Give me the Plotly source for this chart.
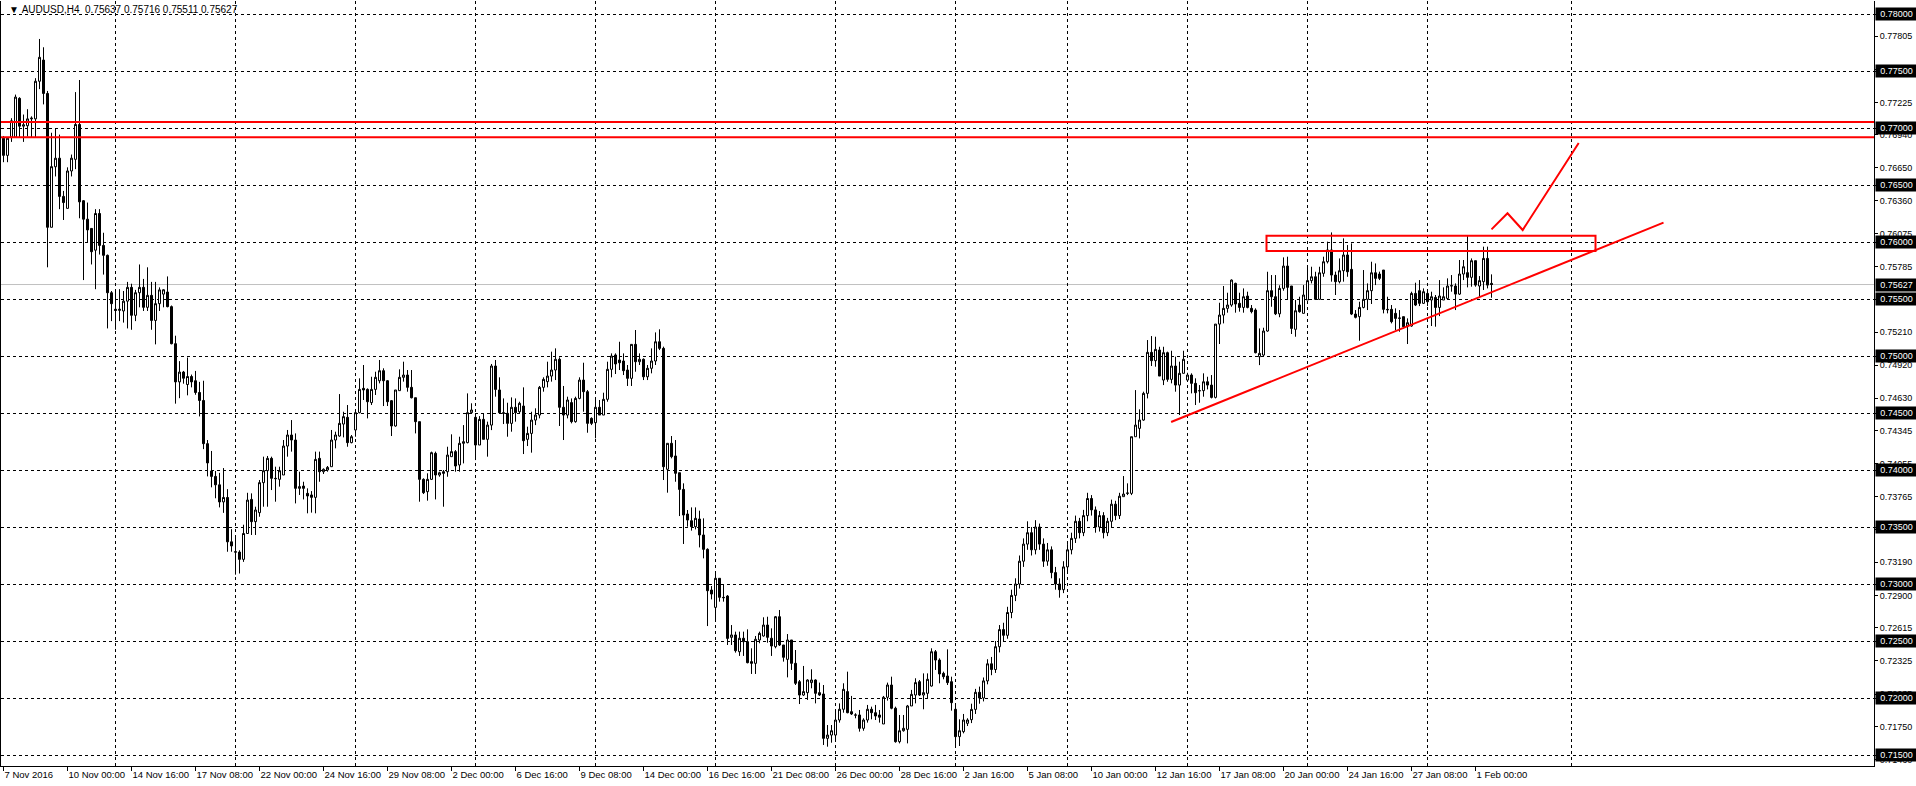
import plotly.graph_objects as go

# ---------------- data (prices in pips, 1 pip = 0.0001) ----------------
PIP = 0.0001
OPEN = [
 7691,7676,7692,7692,7726,7701.6,7702,7708,7708,7741,
 7759.6,7730.3,7612.9,7666,7673.5,7640,7629.5,7662.3,7672.5,7703.1,
 7636.2,7620,7611.9,7592.8,7625,7597,7588.3,7555.5,7541,7540,
 7539.5,7548.1,7560.2,7535.7,7555.5,7560.2,7542.7,7553.2,7531.2,7545.9,
 7554.3,7556.1,7543.3,7510.8,7477.3,7485.9,7475,7482,7478.3,7468,
 7461,7423.1,7399.1,7394.4,7387,7372,7375.9,7337,7328.3,7328,
 7321.6,7344.3,7374.2,7354.7,7362.6,7388.9,7399.4,7410.2,7392.7,7391.8,
 7395.6,7421,7430.7,7426.3,7383.9,7385.9,7379.5,7378.1,7376,7410.2,
 7398.5,7400,7402.9,7426.3,7429.8,7440.3,7446.2,7424,7435.1,7450.3,
 7471.6,7470.7,7459.1,7470.7,7478.3,7487.1,7478.3,7460.8,7438.6,7469.6,
 7481.3,7483.3,7472.5,7463.4,7442.4,7391.8,7381,7391.8,7414.6,7395.6,
 7398.5,7398.5,7411.7,7416.1,7404.4,7423.4,7424,7450.3,7446.2,7421.9,
 7444.4,7426.9,7439.4,7491.2,7470.2,7450.3,7449.7,7440.9,7455,7451.1,
 7456.1,7426.9,7432.1,7443.8,7448.2,7472.5,7477.5,7482.4,7487.7,7497.1,
 7455,7448.2,7459.1,7442.4,7462.8,7478.9,7468.7,7445.3,7441.5,7455,
 7448.2,7462,7488.3,7500.9,7496.5,7495.6,7487.7,7480.4,7510.2,7495,
 7497.1,7481.8,7489.2,7495.6,7512.5,7506.7,7400.6,7423.4,7412.3,7397.6,
 7383,7361.4,7355.5,7350.3,7357,7343,7330.4,7294.7,7279.5,7305,
 7288.3,7289.4,7253.2,7255.3,7240.6,7252.4,7249.4,7231.9,7230.4,7250.9,
 7254.4,7264,7252.4,7245,7271.3,7246.5,7233.9,7250.9,7230.4,7214.3,
 7202.6,7204.7,7213.5,7215.8,7204.7,7203.5,7164.6,7167.5,7167.5,7180.7,
 7190.1,7205.6,7188,7185.1,7185.1,7173.4,7180.7,7190.1,7187.1,7185.1,
 7177.2,7200.6,7211.4,7191,7161.7,7171.3,7172.5,7193,7202.6,7214.3,
 7202.6,7204.1,7210.5,7240.6,7233.3,7221.6,7219.3,7214.3,7190.1,7166.1,
 7170.5,7177.8,7181,7190,7205,7200,7215,7230,7225,7245,
 7260,7255,7275,7290,7300,7320,7335,7345,7330,7350,
 7335,7320,7330,7310,7300,7295,7315,7330,7340,7355,
 7345,7360,7375,7365,7350,7360,7345,7355,7370,7360,
 7376.6,7379.5,7379.5,7429.2,7436.5,7443.8,7467.2,7503.2,7495.9,7505.2,
 7478.9,7502.9,7479.5,7491.2,7474.5,7484.8,7478.9,7483.3,7476,7469.6,
 7469.6,7477.4,7474.5,7463.7,7528,7535.9,7541.8,7544.7,7563.7,7546.2,
 7542.6,7552.6,7541.8,7540.3,7499.4,7500.8,7521.9,7557.3,7552,7537,
 7559.3,7578.9,7561.4,7523.4,7544.7,7537.4,7549.1,7566.1,7569.5,7549.7,
 7572.5,7582.7,7593,7571,7565.2,7574.8,7588.6,7576,7536.8,7534.5,
 7542.6,7549.7,7557.3,7573,7571.9,7575.4,7540.9,7540.9,7537.4,7533,
 7534.5,7526.3,7526.3,7554.9,7557.3,7546.2,7554.9,7549.1,7551.4,7542.6,
 7549.1,7550.5,7561.4,7561.4,7554.3,7571.9,7573.1,7569,7583.6,7561.4,
 7565.2,7585.6,7563.7]
HIGH = [
 7693,7692,7708.6,7729.3,7727,7711.8,7716.5,7710.2,7743.7,7778.1,
 7770.8,7732.5,7695.8,7699.6,7694.2,7644.8,7665.5,7676.7,7731.5,7742.1,
 7636.8,7634.6,7611.9,7628.8,7628.8,7608.1,7589,7557,7557,7558.6,
 7557,7565,7563.4,7558,7580.3,7567.6,7577.8,7565,7565,7560.2,
 7558.6,7569.8,7544.3,7517.8,7495.5,7486.9,7498.7,7483.7,7486.9,7477.3,
 7478.3,7426.3,7416.7,7399.1,7397.5,7401.7,7383.2,7348.1,7341.7,7329.6,
 7352,7380,7379.5,7367.8,7391.2,7411.7,7412.3,7411.7,7402.9,7402.9,
 7426.3,7435.1,7443.8,7432.1,7398.5,7389.7,7383.9,7381.5,7416.1,7416.1,
 7401.4,7403.5,7435.1,7433.6,7466.6,7451.1,7457,7430.7,7451.1,7480.4,
 7492.1,7471.6,7481.8,7486.2,7496.5,7489.2,7478.9,7461.4,7470.2,7488.3,
 7495,7487.7,7487.7,7463.4,7442.4,7392.7,7397.1,7416.1,7416.1,7398.5,
 7400,7420.4,7431.3,7417.5,7429.2,7439.4,7467.2,7458.5,7449.7,7447.3,
 7449.7,7442.4,7493,7496.5,7481.3,7462.8,7459,7463.7,7462.8,7459.9,
 7472.5,7438,7451.1,7454.1,7473.7,7481.3,7495,7503.8,7506.7,7498.8,
 7473.7,7464.3,7462.8,7464.3,7481.3,7494.1,7470.2,7446.2,7462.8,7461.4,
 7467.8,7495,7502.3,7502.3,7512.5,7502.3,7492.1,7510.5,7522.8,7502.3,
 7497.9,7492.1,7506.7,7520.7,7523.4,7508.2,7423.4,7429.8,7426.3,7397.6,
 7388.3,7364.9,7367.2,7367.2,7364.3,7357.6,7331.3,7298.2,7310.8,7305,
 7299.1,7290.3,7264,7258.2,7258.2,7258.2,7260.2,7243.6,7254.4,7258.2,
 7270.8,7271.3,7261.1,7271.9,7277.2,7246.5,7256.1,7250.9,7242.1,7215.8,
 7228.1,7216.4,7225.2,7216.4,7213.5,7211.4,7176.3,7176.3,7188,7195.3,
 7212.9,7223.1,7201.8,7186.6,7189.5,7182.2,7193.9,7192.4,7193.9,7189.5,
 7201.8,7213.5,7218.7,7192.4,7185.1,7185.1,7193.9,7207.1,7217.3,7215.8,
 7221.6,7221.6,7243.6,7242.1,7234.8,7223.1,7242.7,7218.7,7193.9,7181.3,
 7186,7182.2,7195,7208,7210,7218,7234,7236,7250,7264,
 7266,7280,7295,7305,7325,7340,7355,7350,7356,7353,
 7340,7336,7333,7315,7305,7320,7335,7345,7360,7358,
 7365,7380,7378,7368,7364,7363,7358,7374,7373,7380,
 7394.7,7388.3,7429.2,7470.1,7453.2,7468.7,7514,7517.5,7516.9,7508.1,
 7508.1,7503.8,7504.6,7499.4,7495,7504.6,7485.3,7484.8,7480.4,7474.5,
 7484.8,7481.8,7483.3,7528,7546.7,7561.4,7555.5,7567.2,7564.3,7555.5,
 7559.3,7556.4,7544.7,7541.8,7524.2,7524.8,7573.9,7571,7571,7562,
 7586.5,7587.1,7561.4,7549.1,7552,7562.2,7578.3,7578.3,7573.9,7578.3,
 7587.1,7600.3,7608.4,7574,7585.6,7603.2,7597.3,7598.8,7540.3,7547.6,
 7575.4,7563.7,7582.7,7581.2,7574,7575.4,7552,7544.7,7541.8,7540.3,
 7534.5,7533,7556.4,7564.3,7566.6,7559.3,7556.4,7556.4,7553.5,7566.6,
 7560.2,7568.1,7571,7563.7,7584.2,7584.2,7605.2,7585.6,7583.6,7570.1,
 7595.9,7595.9,7571.6]
LOW = [
 7670,7670,7687.8,7692,7692,7687.8,7692.6,7692,7692,7734.1,
 7720.7,7577.8,7612.9,7657.5,7628.8,7619.3,7629.5,7657.5,7663.9,7620.8,
 7566.6,7599.5,7580.3,7558.6,7589,7571.4,7524.2,7530.6,7523,7530.6,
 7529.3,7524.2,7523,7530.6,7542.7,7539.5,7539.5,7523,7510.2,7539.5,
 7542.7,7542.7,7510.2,7458.2,7463,7475.7,7465.5,7472.5,7466,7447,
 7418.3,7394.4,7384.8,7375.2,7367.2,7362.4,7328.3,7328.3,7308.2,7309.2,
 7319.4,7344.3,7343,7343,7359,7367.8,7367.8,7382.4,7372.2,7385.4,
 7395.6,7411.7,7416.1,7370.7,7378.1,7374.2,7362,7362.6,7362,7389.7,
 7396.5,7398.5,7402.9,7419,7429.2,7428.6,7420.4,7423.4,7429.2,7449.7,
 7461.4,7445.3,7457,7465.8,7476,7456.1,7456.1,7429.8,7438,7469.6,
 7477.5,7468.7,7462.8,7432.1,7372.2,7378.9,7373.1,7391.2,7374.2,7394.1,
 7367.8,7394.1,7411.7,7398.5,7398.5,7405.8,7423.4,7449.7,7408.7,7421.9,
 7426.9,7411.7,7435,7464.3,7449.7,7440.3,7429.2,7433.6,7442.4,7449.7,
 7414,7421,7415.2,7439.4,7445.3,7468.7,7472.5,7477.5,7478.9,7438.6,
 7426.3,7445.3,7440.9,7441.5,7462,7451.1,7432.7,7439.4,7427.8,7448.2,
 7448.2,7459.9,7481.3,7484.2,7487.7,7483.3,7473.7,7473.7,7486.2,7492.1,
 7478.9,7478.9,7484.8,7492.1,7505.2,7391.2,7380.1,7410.2,7389.7,7359.6,
 7335.1,7350.3,7346.8,7347.9,7332.1,7322.5,7263.1,7286.5,7269,7284.5,
 7284.5,7246.5,7246.5,7239.8,7236.9,7236.9,7230.4,7221.1,7221.1,7248,
 7253.8,7248.5,7236.9,7243.6,7245.6,7231.9,7218.1,7224.6,7211.4,7194.7,
 7201.8,7198.3,7208.5,7195.3,7201.8,7158.8,7157.3,7160.8,7163.2,7178.4,
 7187.1,7186.6,7185.1,7182.2,7170.5,7171.3,7178.4,7181.3,7180.7,7178.4,
 7177.2,7197.7,7190.1,7160.8,7160.2,7170.5,7160.2,7193,7195.3,7201.8,
 7190.1,7199.7,7210,7224.6,7212.9,7216.4,7211.4,7188.9,7157.9,7157.9,
 7169,7175.4,7178,7186,7195,7197,7212,7220,7222,7240,
 7250,7252,7270,7285,7296,7315,7330,7325,7326,7330,
 7315,7316,7305,7295,7288,7292,7310,7326,7336,7340,
 7342,7355,7360,7345,7346,7340,7342,7350,7356,7357,
 7376.6,7378,7378,7429.2,7427.7,7443.2,7462.8,7491.2,7490.6,7482.4,
 7474.5,7477.4,7476,7468.7,7448.2,7484.8,7477.4,7467.2,7457,7459,
 7464.3,7470.7,7462.8,7462.8,7510.5,7528.6,7538,7543.2,7538,7538.9,
 7538,7541.8,7537.4,7502.3,7492,7499.4,7521.3,7543.2,7535.9,7534,
 7557.3,7549.1,7519.3,7516.9,7538,7537.4,7549.1,7563.7,7549.1,7549.1,
 7569.5,7581.2,7565.2,7553.5,7563.7,7565.2,7569.5,7535.9,7533,7513.4,
 7541.8,7540.3,7545.6,7562.2,7566.6,7537.4,7537.4,7528.6,7522.8,7521.3,
 7524.2,7510.5,7525.7,7543.8,7543.8,7545.6,7543.8,7526.3,7525.7,7535,
 7549.1,7549.7,7556.4,7540.3,7553.5,7566.6,7560.2,7560.8,7560.8,7552,
 7557.9,7559.3,7551.1]
CLOSE = [
 7676,7691,7706.3,7727.1,7701.6,7702.8,7708,7708.6,7741,7762,
 7730.3,7612.9,7666.1,7673.5,7640,7634.6,7662.3,7673.5,7703.1,7635.2,
 7620,7610.6,7591.5,7625,7597,7588.3,7555.5,7545.9,7540,7541,
 7548.1,7560.2,7535.7,7555.5,7560.2,7542.7,7553.2,7531.2,7545.9,7558,
 7558.1,7543.3,7510.8,7477.3,7485.9,7480.5,7482,7477.3,7468,7461,
 7423.1,7406.2,7394.4,7387,7372,7375.9,7337,7333.4,7328,7321.6,
 7344.3,7373.6,7354.7,7364.9,7388.9,7399.4,7410.2,7392.7,7392.4,7399.4,
 7421,7430.7,7426.3,7383.9,7385.4,7383.9,7377.2,7376,7409.3,7398.5,
 7400.6,7402.3,7426.3,7430.7,7440.9,7446.8,7424,7429.2,7450.3,7470.7,
 7470.2,7459.9,7470.7,7481.3,7487.1,7478.3,7459.9,7438.6,7470.2,7481.3,
 7483.3,7472.5,7463.4,7442.4,7391.8,7380.1,7391.8,7415.2,7395.6,7397.6,
 7397.1,7413.1,7416.1,7403.5,7423.4,7424.8,7450.3,7452.6,7421.9,7444.4,
 7426.9,7439.4,7491.2,7470.7,7450.3,7449.7,7440.9,7455,7450.3,7458.5,
 7425.7,7432.1,7443.8,7448.2,7472.5,7479.5,7482.4,7487.7,7497.1,7455,
 7448.2,7461.4,7442.4,7462.8,7478.9,7468.7,7440.9,7440.9,7455,7448.2,
 7462,7488.3,7500,7493,7494.1,7487.1,7480.4,7510.2,7495,7497.1,
 7481.8,7489.2,7495.6,7512.5,7506.7,7402.9,7423.4,7411.7,7397.1,7383,
 7360.5,7356.1,7350.3,7357.6,7343,7330.4,7294.1,7291.2,7305,7288.3,
 7288,7252.3,7255.3,7241.5,7252.4,7249.4,7231,7230.4,7251.5,7256.7,
 7264,7253.2,7245.6,7271.3,7246.5,7235.7,7250.9,7230.4,7212.9,7202.6,
 7205.6,7215.8,7215.8,7204.1,7202.6,7164.6,7167.5,7171.3,7180.7,7190.1,
 7207.6,7187.1,7186,7185,7173.4,7180.7,7190.1,7187.1,7184.2,7183.1,
 7200.6,7211.4,7191,7161.7,7171.3,7173.4,7193,7203.2,7213.5,7202.6,
 7204.7,7216.4,7240.6,7233.3,7221.1,7218.7,7213.5,7195.9,7166.1,7171.3,
 7180.7,7180.7,7190,7205,7200,7215,7230,7225,7245,7260,
 7255,7275,7290,7300,7320,7335,7345,7330,7350,7335,
 7320,7330,7310,7300,7295,7315,7330,7340,7355,7345,
 7360,7375,7365,7350,7360,7345,7355,7370,7360,7377,
 7378.9,7379.8,7429.2,7439.4,7443.8,7467.2,7503.2,7495.9,7505.8,7482.4,
 7502.9,7479.5,7491.2,7474.5,7484.8,7497.1,7483.3,7476,7467.8,7469.5,
 7477.4,7474.5,7463.7,7528,7535.9,7541.8,7544.7,7566.6,7545.6,7542.6,
 7552,7542.6,7538.9,7502.9,7502.3,7521.9,7557.3,7552,7537,7559.3,
 7578.9,7560.2,7524.2,7539.7,7538.9,7553.5,7566.1,7569.5,7549.7,7573,
 7582.7,7593,7571,7565.2,7574.8,7588.6,7573.9,7536.8,7533.9,7542.6,
 7549.7,7557.3,7573,7568.1,7568.1,7540.9,7540.6,7530.1,7533,7533.3,
 7525.7,7529.2,7554.9,7544.7,7546.2,7556.4,7547.6,7552,7542.6,7552.6,
 7552,7561.4,7561.7,7554.3,7571.9,7578.3,7569,7583.6,7562.2,7566.1,
 7585.6,7562.2,7562.7]

# time axis labels (one every 16 H4 bars) and weekly grid separators
X_LABEL_BARS = [0, 16, 32, 48, 64, 80, 96, 112, 128, 144, 160, 176, 192, 208,
                224, 240, 256, 272, 288, 304, 320, 336, 352, 368]
X_LABELS = ["7 Nov 2016", "10 Nov 00:00", "14 Nov 16:00", "17 Nov 08:00",
            "22 Nov 00:00", "24 Nov 16:00", "29 Nov 08:00", "2 Dec 00:00",
            "6 Dec 16:00", "9 Dec 08:00", "14 Dec 00:00", "16 Dec 16:00",
            "21 Dec 08:00", "26 Dec 00:00", "28 Dec 16:00", "2 Jan 16:00",
            "5 Jan 08:00", "10 Jan 00:00", "12 Jan 16:00", "17 Jan 08:00",
            "20 Jan 00:00", "24 Jan 16:00", "27 Jan 08:00", "1 Feb 00:00"]
WEEK_GRID_BARS = [28, 58, 88, 118, 148, 178, 207.97, 238, 266, 296, 326, 356, 392]

# price axis
LEVELS = [0.715, 0.720, 0.725, 0.730, 0.735, 0.740, 0.745, 0.750,
          0.755, 0.760, 0.765, 0.770, 0.775, 0.780]
SCALE_TICKS = [0.71460, 0.71750, 0.72035, 0.72325, 0.72615, 0.72900, 0.73190,
               0.73475, 0.73765, 0.74055, 0.74345, 0.74630, 0.74920, 0.75210,
               0.75495, 0.75785, 0.76075, 0.76360, 0.76650, 0.76940, 0.77225,
               0.77515, 0.77805]
BID = 0.75627
SYMBOL = "AUDUSD,H4"
LAST_OHLC = ["0.75637", "0.75716", "0.75511", "0.75627"]

# red drawings
RED_LEVELS = [0.77053, 0.76918]
BOX_BARS = [315.75, 398.0]
BOX_PRICES = [0.75921, 0.76055]
TREND_BARS = [291.9, 415.0]
TREND_PRICES = [0.74421, 0.76170]
ARROW_BARS = [372.0, 376.0, 379.8, 393.8]
ARROW_PRICES = [0.76111, 0.76252, 0.76105, 0.76868]

# ---------------- figure ----------------
FONT = "Liberation Sans, Arial, sans-serif"
bars = list(range(len(OPEN)))
o = [v * PIP for v in OPEN]
h = [max(a, b, c) * PIP for a, b, c in zip(HIGH, OPEN, CLOSE)]
l = [min(a, b, c) * PIP for a, b, c in zip(LOW, OPEN, CLOSE)]
c = [v * PIP for v in CLOSE]

fig = go.Figure()
fig.add_trace(go.Candlestick(
    x=bars, open=o, high=h, low=l, close=c,
    increasing=dict(line=dict(color="black", width=1), fillcolor="white"),
    decreasing=dict(line=dict(color="black", width=1), fillcolor="black"),
    whiskerwidth=0, hoverinfo="skip", showlegend=False))

fig.add_trace(go.Scatter(x=TREND_BARS, y=TREND_PRICES, mode="lines",
                         line=dict(color="#ff0000", width=2),
                         hoverinfo="skip", showlegend=False))
fig.add_trace(go.Scatter(x=ARROW_BARS, y=ARROW_PRICES, mode="lines",
                         line=dict(color="#ff0000", width=2),
                         hoverinfo="skip", showlegend=False))

shapes = []
shapes.append(dict(type="line", xref="paper", x0=0, x1=1, yref="y", y0=BID, y1=BID,
                   line=dict(color="#c0c0c0", width=1), layer="below"))
for p in RED_LEVELS:
    shapes.append(dict(type="line", xref="paper", x0=0, x1=1, yref="y", y0=p, y1=p,
                       line=dict(color="#ff0000", width=2)))
shapes.append(dict(type="rect", xref="x", yref="y",
                   x0=BOX_BARS[0], x1=BOX_BARS[1], y0=BOX_PRICES[0], y1=BOX_PRICES[1],
                   line=dict(color="#ff0000", width=2), fillcolor="rgba(0,0,0,0)"))

annotations = []
for v in LEVELS + [BID]:
    annotations.append(dict(xref="paper", x=1, xanchor="left", xshift=1,
                            yref="y", y=v, yanchor="middle",
                            text=f"{v:.5f}", showarrow=False,
                            font=dict(family=FONT, size=9, color="white"),
                            bgcolor="black", borderpad=1, width=39, height=10,
                            align="center"))
annotations.append(dict(xref="paper", x=0, xanchor="left", xshift=6,
                        yref="paper", y=1, yanchor="top", yshift=-1,
                        text="\u25bc\u00a0" + SYMBOL + "\u00a0\u00a0" + " ".join(LAST_OHLC),
                        showarrow=False,
                        font=dict(family=FONT, size=10, color="black")))

fig.update_layout(
    width=1916, height=786,
    margin=dict(l=1, r=42, t=1, b=20, pad=0, autoexpand=False),
    paper_bgcolor="white", plot_bgcolor="white",
    showlegend=False, boxgap=0.5, boxgroupgap=0,
    font=dict(family=FONT, size=9, color="black"),
    shapes=shapes, annotations=annotations,
    xaxis=dict(
        range=[-0.625, 467.625], rangeslider=dict(visible=False),
        automargin=False,
        showline=True, linecolor="black", linewidth=1, zeroline=False,
        tickmode="array", tickvals=X_LABEL_BARS, ticktext=X_LABELS,
        ticks="outside", ticklen=4, tickcolor="black", tickwidth=1,
        ticklabelposition="outside right", tickangle=0,
        tickfont=dict(family=FONT, size=9.5, color="black"),
        showgrid=False,
        minor=dict(tickmode="array", tickvals=WEEK_GRID_BARS, ticks="",
                   showgrid=True, gridcolor="black", gridwidth=1,
                   griddash="3px,3px"),
    ),
    yaxis=dict(
        side="right", range=[0.714035, 0.781140],
        automargin=False,
        showline=True, mirror=True, linecolor="black", linewidth=1, zeroline=False,
        tickmode="array", tickvals=SCALE_TICKS,
        ticktext=[f"{v:.5f}" for v in SCALE_TICKS],
        ticks="outside", ticklen=3, tickcolor="black",
        tickfont=dict(family=FONT, size=9, color="black"),
        showgrid=False,
        minor=dict(tickmode="array", tickvals=LEVELS, ticks="outside", ticklen=3,
                   tickcolor="black", showgrid=True, gridcolor="black",
                   gridwidth=1, griddash="3px,3px"),
    ),
)

fig.write_html("out.html", config={"displayModeBar": False})
